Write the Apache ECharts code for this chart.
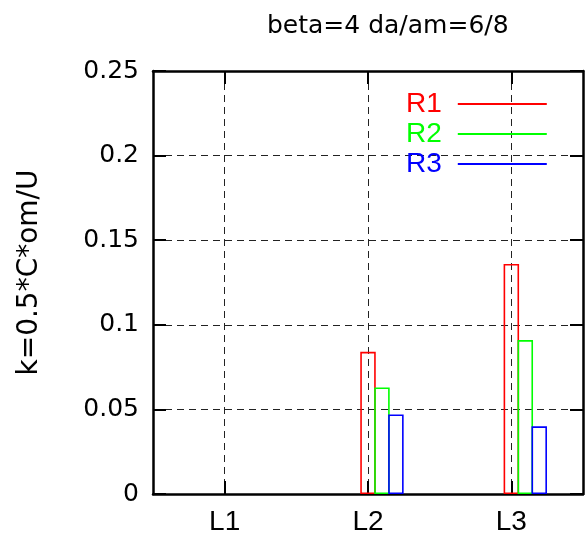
<!DOCTYPE html>
<html>
<head>
<meta charset="utf-8">
<script src="https://cdn.jsdelivr.net/npm/echarts@6/dist/echarts.min.js"></script>
<style>html,body{margin:0;padding:0;background:#fff;}#c{width:588px;height:544px;}</style>
</head>
<body>
<div id="c"></div>
<script>
var titleText = 'beta=4 da/am=6/8';
var yName = 'k=0.5*C*om/U';
var categories = ['L1', 'L2', 'L3'];
var seriesNames = ['R1', 'R2', 'R3'];
var r1 = [null, 0.084, 0.136];
var r2 = [null, 0.063, 0.091];
var r3 = [null, 0.047, 0.040];
var colors = ['#ff0000', '#00ff00', '#0000ff'];
var yMin = 0, yMax = 0.25, yStep = 0.05;

var chart = echarts.init(document.getElementById('c'), null, {renderer: 'canvas'});
var dash = {show: true, lineStyle: {color: '#222', width: 1, type: [7, 5]}};
var tickStyle = {show: true, inside: true, length: 13, lineStyle: {color: '#000', width: 2}};
var lineStyle = {show: true, onZero: false, lineStyle: {color: '#000', width: 2.5}};

var values = [r1, r2, r3];
var barW = 15.5, gap = '-10%';
var series = [
  {type: 'bar', name: '_s1', data: [], barWidth: barW, barGap: gap},
  {type: 'bar', name: '_s2', data: [], barWidth: barW, barGap: gap}
];
seriesNames.forEach(function (n, i) {
  series.push({
    type: 'bar', name: n, data: values[i], barWidth: barW, barGap: gap,
    itemStyle: {color: 'rgba(0,0,0,0)', borderColor: colors[i], borderWidth: 1.6},
    emphasis: {disabled: true}
  });
});

chart.setOption({
  animation: false,
  backgroundColor: '#fff',
  title: {
    text: titleText, left: 262, top: 9,
    textStyle: {fontFamily: 'DejaVu Sans', fontSize: 25, fontWeight: 'normal', color: '#000'}
  },
  legend: {
    orient: 'vertical', left: 401, top: 84, align: 'right', itemGap: 0,
    itemWidth: 89, itemHeight: 2,
    data: seriesNames.map(function (n, i) {
      return {name: n, icon: 'rect', itemStyle: {color: colors[i], borderWidth: 0},
        textStyle: {color: colors[i]}};
    }),
    textStyle: {fontFamily: 'Liberation Sans', fontSize: 28, lineHeight: 30, padding: [0, 11, 0, 0]}
  },
  grid: {left: 153, right: 5, top: 71, bottom: 50, containLabel: false},
  xAxis: [
    {type: 'category', data: categories, position: 'bottom',
      axisLine: lineStyle, axisTick: Object.assign({alignWithLabel: true}, tickStyle),
      splitLine: Object.assign({alignWithLabel: true}, dash),
      axisLabel: {fontFamily: 'Liberation Sans', fontSize: 28, color: '#000', margin: 14}},
    {type: 'category', data: categories, position: 'top',
      axisLine: lineStyle, axisTick: Object.assign({alignWithLabel: true}, tickStyle),
      splitLine: {show: false}, axisLabel: {show: false}}
  ],
  yAxis: [
    {type: 'value', min: yMin, max: yMax, interval: yStep, position: 'left',
      name: yName, nameLocation: 'middle', nameGap: 109,
      nameTextStyle: {fontFamily: 'DejaVu Sans', fontSize: 28, color: '#000', padding: [0, 0, 0, 20]},
      axisLine: lineStyle, axisTick: tickStyle, splitLine: dash,
      axisLabel: {fontFamily: 'DejaVu Sans', fontSize: 25, color: '#000', margin: 14}},
    {type: 'value', min: yMin, max: yMax, interval: yStep, position: 'right',
      axisLine: lineStyle, axisTick: tickStyle, splitLine: {show: false},
      axisLabel: {show: false}}
  ],
  series: series
});
</script>
</body>
</html>
